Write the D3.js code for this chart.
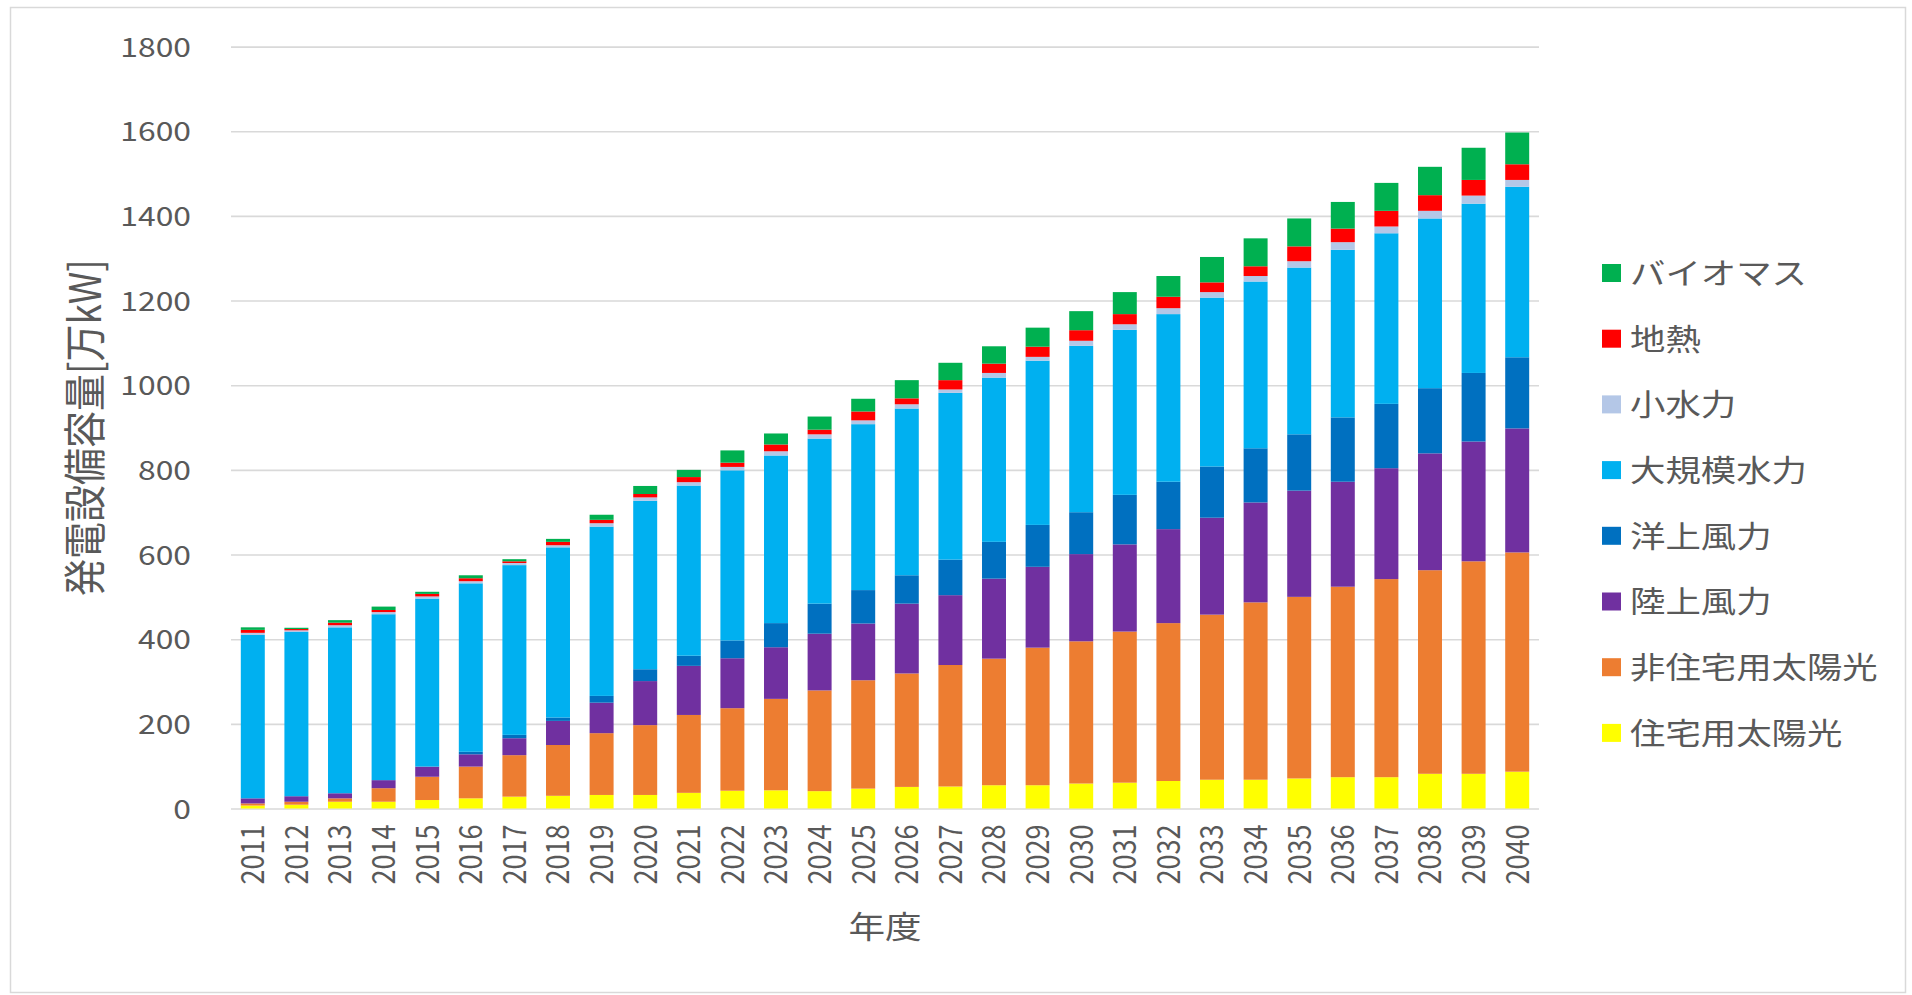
<!DOCTYPE html>
<html>
<head>
<meta charset="utf-8">
<script src="https://cdn.jsdelivr.net/npm/d3@7"></script>
<style>
  html, body { margin: 0; padding: 0; background: #fff; }
  svg { display: block; }
  text { font-family: "Noto Sans CJK JP", "Noto Sans", sans-serif; fill: #595959; }
</style>
</head>
<body>
<svg id="chart" width="1912" height="995"></svg>
<script>
// Fiscal years on the category axis
const years = ["2011","2012","2013","2014","2015","2016","2017","2018","2019","2020",
               "2021","2022","2023","2024","2025","2026","2027","2028","2029","2030",
               "2031","2032","2033","2034","2035","2036","2037","2038","2039","2040"];

// Installed capacity by source [万kW], stacked bottom to top
const residentialPV    = [7, 9, 16, 16, 20, 24, 28, 30, 32, 32, 37, 42, 43, 41, 47, 51, 52, 55, 55, 59, 61, 65, 68, 68, 71, 74, 74, 82, 82, 87];
const nonResidentialPV = [5, 7, 8, 32, 55, 75, 98, 120, 146, 165, 184, 195, 216, 238, 256, 268, 287, 299, 325, 336, 357, 373, 390, 419, 429, 450, 468, 481, 502, 518];
const onshoreWind      = [12, 13, 12, 19, 24, 29, 40, 57, 72, 104, 116, 118, 122, 134, 134, 165, 165, 189, 191, 206, 206, 222, 229, 236, 251, 248, 262, 276, 283, 293];
const offshoreWind     = [0, 0, 0, 0, 0, 6, 8, 8, 16, 28, 24, 42, 57, 71, 79, 67, 84, 87, 99, 99, 117, 112, 121, 128, 133, 152, 152, 154, 162, 168];
const largeHydro       = [386, 388, 392, 392, 397, 398, 401, 402, 400, 398, 402, 402, 396, 390, 392, 394, 394, 388, 388, 393, 390, 396, 399, 394, 394, 396, 403, 401, 400, 403];
const smallHydro       = [5, 4, 5, 5, 5, 5, 5, 5, 8, 8, 8, 8, 10, 10, 9, 10, 8, 11, 9, 12, 13, 14, 13, 13, 15, 18, 16, 18, 19, 16];
const geothermal       = [7, 3, 6, 5, 6, 7, 4, 8, 8, 8, 12, 10, 16, 11, 21, 14, 22, 22, 24, 25, 24, 27, 23, 23, 35, 32, 37, 37, 37, 37];
const biomass          = [6, 3, 6, 8, 5, 7, 5, 7, 12, 19, 17, 29, 26, 31, 30, 43, 41, 41, 45, 45, 52, 49, 60, 66, 66, 63, 66, 67, 76, 75];

// Series keys, display names and fills (stack order, bottom first)
const seriesKeys   = ["res", "nonres", "onshore", "offshore", "large", "small", "geo", "bio"];
const seriesNames  = ["住宅用太陽光", "非住宅用太陽光", "陸上風力", "洋上風力", "大規模水力", "小水力", "地熱", "バイオマス"];
const seriesColors = ["#FFFF00", "#ED7D31", "#7030A0", "#0070C0", "#00B0F0", "#B4C7E7", "#FF0000", "#00B050"];

const yTicks = [0, 200, 400, 600, 800, 1000, 1200, 1400, 1600, 1800];
const yTitle = "発電設備容量[万kW]";
const xTitle = "年度";

// Build the table that d3.stack consumes
const valueArrays = [residentialPV, nonResidentialPV, onshoreWind, offshoreWind, largeHydro, smallHydro, geothermal, biomass];
const rows = years.map((yr, i) => {
  const r = { year: yr };
  seriesKeys.forEach((k, j) => { r[k] = valueArrays[j][i]; });
  return r;
});
const stacked = d3.stack().keys(seriesKeys)(rows);
const colorOf = d3.scaleOrdinal().domain(seriesKeys).range(seriesColors);

// Horizontal stretch applied to all text
const SX = 1.18;

const svg = d3.select("#chart");

// Chart frame
svg.append("rect")
  .attr("x", 10.5).attr("y", 7.5)
  .attr("width", 1895).attr("height", 985)
  .attr("fill", "#fff").attr("stroke", "#d9d9d9").attr("stroke-width", 1.5);

const plotLeft = 231, plotRight = 1539, plotTop = 46.6, plotBottom = 808.5;

const x = d3.scaleBand().domain(years).range([plotLeft, plotRight])
  .paddingInner(0.45).paddingOuter(0.225);
const y = d3.scaleLinear().domain([0, 1800]).range([plotBottom, plotTop]);

// Value axis with full-width gridlines
const yAxis = svg.append("g")
  .attr("transform", `translate(${plotLeft},0)`)
  .call(d3.axisLeft(y).tickValues(yTicks).tickFormat(d3.format("d"))
    .tickSize(-(plotRight - plotLeft)).tickPadding(0));
yAxis.select(".domain").remove();
yAxis.selectAll(".tick line").attr("stroke", "#d9d9d9").attr("stroke-width", 1.6);
yAxis.selectAll(".tick text")
  .attr("x", null).attr("dy", "0.36em")
  .attr("transform", `translate(-40,0) scale(${SX},1)`)
  .style("font-size", "27px")
  .style("text-anchor", "end");

// Stacked bars
svg.append("g")
  .selectAll("g")
  .data(stacked)
  .join("g")
  .attr("fill", d => colorOf(d.key))
  .selectAll("rect")
  .data(d => d)
  .join("rect")
  .attr("x", d => x(d.data.year))
  .attr("width", x.bandwidth())
  .attr("y", d => y(d[1]))
  .attr("height", d => y(d[0]) - y(d[1]));

// Category axis with rotated year labels
const xAxis = svg.append("g")
  .attr("transform", `translate(0,${plotBottom})`)
  .call(d3.axisBottom(x).tickSize(0).tickPadding(0));
xAxis.select(".domain").remove();
xAxis.selectAll(".tick text")
  .attr("x", 0).attr("y", 0).attr("dy", "0.36em")
  .attr("transform", `translate(0,16) scale(${SX},1) rotate(-90)`)
  .style("font-size", "27px")
  .style("text-anchor", "end");

// Axis titles
svg.append("text")
  .attr("transform", `translate(85,${(plotTop + plotBottom) / 2}) scale(${SX},1) rotate(-90)`)
  .attr("dy", "0.36em")
  .style("text-anchor", "middle")
  .style("font-size", "37px")
  .text(yTitle);

svg.append("text")
  .attr("transform", `translate(${(plotLeft + plotRight) / 2},927) scale(${SX},1)`)
  .attr("dy", "0.36em")
  .style("text-anchor", "middle")
  .style("font-size", "31px")
  .text(xTitle);

// Legend, topmost series first
const legendOrder = d3.range(seriesKeys.length).reverse();
const legend = svg.append("g").attr("transform", "translate(1602,273)");
const item = legend.selectAll("g")
  .data(legendOrder)
  .join("g")
  .attr("transform", (d, i) => `translate(0,${i * 65.7})`);
item.append("rect")
  .attr("x", 0).attr("y", -9)
  .attr("width", 19).attr("height", 18)
  .attr("fill", d => seriesColors[d]);
item.append("text")
  .attr("transform", `translate(28,0) scale(${SX},1)`)
  .attr("dy", "0.36em")
  .style("font-size", "30px")
  .text(d => seriesNames[d]);
</script>
</body>
</html>
